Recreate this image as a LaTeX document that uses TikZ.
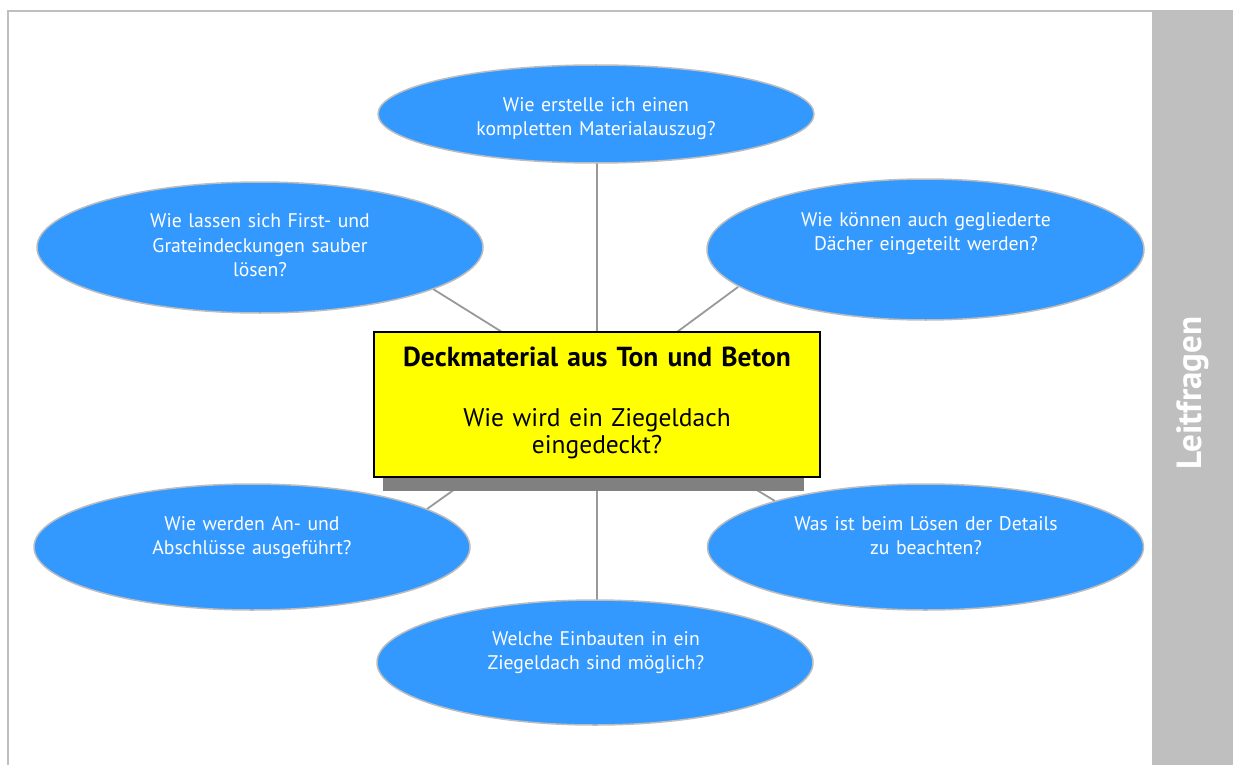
\documentclass[tikz,border=0pt]{standalone}
\usepackage{fontspec}
\setmainfont{PT Sans}
\usetikzlibrary{shapes.geometric}
\definecolor{qblue}{HTML}{3399FF}
\definecolor{qedge}{HTML}{BDBDBD}
\definecolor{qline}{HTML}{999999}
\definecolor{qside}{HTML}{BFBFBF}
\definecolor{qshadow}{HTML}{808080}
\definecolor{qyellow}{HTML}{FFFF00}
\tikzset{
  qell/.style={ellipse, draw=qedge, line width=1.5pt, fill=qblue, inner sep=0pt},
  qtext/.style={text=white, align=center, text width=420pt, inner sep=0pt, anchor=base,
    font=\fontsize{19.7}{24.5}\selectfont},
  qconn/.style={draw=qline, line width=1.8pt},
  cbox/.style={draw=black, line width=2pt, fill=qyellow, inner sep=0pt},
  ctext/.style={align=center, inner sep=0pt, anchor=base, text width=440pt},
}
\begin{document}
\begin{tikzpicture}[x=1pt, y=-1pt]
\useasboundingbox (0,0) rectangle (1233,765);
% frame
\draw[qside, line width=2pt] (8,765) -- (8,11) -- (1233,11);
\fill[qside] (1152,12) rectangle (1233,765);
\node[rotate=90, text=white, font=\fontsize{35}{40}\bfseries\selectfont] (side) at (1193,393) {Leitfragen};

% connector endpoints
\coordinate (a1) at (597,163); \coordinate (b1) at (597,332);
\coordinate (a2) at (433,289); \coordinate (b2) at (502,332);
\coordinate (a3) at (738,287); \coordinate (b3) at (677,332);
\coordinate (a4) at (427,509); \coordinate (b4) at (455,489);
\coordinate (a5) at (775,501); \coordinate (b5) at (755,489);
\coordinate (a6) at (597,600); \coordinate (b6) at (597,489);
\foreach \i in {1,...,6} { \draw[qconn] (a\i) -- (b\i); }

% central box with shadow
\fill[qshadow] (383,340) rectangle (804,491);
\node[cbox, minimum width=446pt, minimum height=145pt] (c) at (597,404.5) {};
\node[ctext, font=\fontsize{27.5}{30}\bfseries\selectfont] (ct1) at (597,366) {Deckmaterial aus Ton und Beton};
\node[ctext, font=\fontsize{25.5}{27}\selectfont] (ct2) at (597,426) {Wie wird ein Ziegeldach\\eingedeckt?};

% ellipses
\node[qell, minimum width=436pt, minimum height=98pt] (e1) at (596,114) {};
\node[qell, minimum width=446pt, minimum height=131pt] (e2) at (260,247.5) {};
\node[qell, minimum width=437pt, minimum height=141pt] (e3) at (925.5,249.5) {};
\node[qell, minimum width=436pt, minimum height=126pt] (e4) at (252,547) {};
\node[qell, minimum width=436pt, minimum height=126pt] (e5) at (925.5,547) {};
\node[qell, minimum width=436pt, minimum height=125pt] (e6) at (595,662.5) {};

\node[qtext] (t1) at (596,111) {Wie erstelle ich einen\\kompletten Materialauszug?};
\node[qtext] (t2) at (260,227.5) {Wie lassen sich First- und\\Grateindeckungen sauber\\lösen?};
\node[qtext] (t3) at (926,226) {Wie können auch gegliederte\\Dächer eingeteilt werden?};
\node[qtext] (t4) at (252,530) {Wie werden An- und\\Abschlüsse ausgeführt?};
\node[qtext] (t5) at (926,530) {Was ist beim Lösen der Details\\zu beachten?};
\node[qtext] (t6) at (596,645) {Welche Einbauten in ein\\Ziegeldach sind möglich?};
\end{tikzpicture}
\end{document}
